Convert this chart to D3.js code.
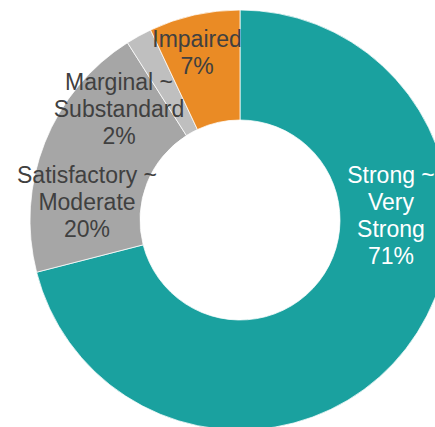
<!DOCTYPE html>
<html>
<head>
<meta charset="utf-8">
<script src="https://cdn.jsdelivr.net/npm/d3@7"></script>
<style>
  html, body { margin: 0; padding: 0; background: #fff; overflow: hidden; }
  svg { display: block; }
  text { font-family: "Liberation Sans", Arial, sans-serif; }
</style>
</head>
<body>
<svg id="chart" width="435" height="427"></svg>
<script>
// Rating distribution (share of total, %)
const categories = ["Strong ~ Very Strong", "Satisfactory ~ Moderate", "Marginal ~ Substandard", "Impaired"];
const shares = [71, 20, 2, 7];
const labelLines = [
  ["Strong ~", "Very", "Strong", "71%"],
  ["Satisfactory ~", "Moderate", "20%"],
  ["Marginal ~", "Substandard", "2%"],
  ["Impaired", "7%"]
];

// Presentation settings
const colors = ["#1AA19F", "#A6A6A6", "#BFBFBF", "#EA8B25"];
const textColors = ["#ffffff", "#404040", "#404040", "#404040"];
// label block anchor: [x offset, first baseline offset] from the donut centre
const labelAnchors = [[151, -37], [-153, -37], [-121, -130], [-43, -173]];

const cx = 240, cy = 220, outerR = 210, innerR = 100;
const fontSize = 23, lineHeight = 27;

const svg = d3.select("#chart");
const g = svg.append("g").attr("transform", `translate(${cx},${cy})`);

const pie = d3.pie().sort(null).value(d => d.value);
const arc = d3.arc().innerRadius(innerR).outerRadius(outerR);

const data = categories.map((c, i) => ({ name: c, value: shares[i], idx: i }));
const arcs = pie(data);

g.selectAll("path.slice")
  .data(arcs)
  .join("path")
  .attr("class", "slice")
  .attr("d", arc)
  .attr("fill", d => colors[d.data.idx])
  .attr("stroke", "#ffffff")
  .attr("stroke-width", 0.75);

const labels = g.selectAll("text.lbl")
  .data(arcs)
  .join("text")
  .attr("class", "lbl")
  .attr("text-anchor", "middle")
  .attr("font-size", fontSize)
  .attr("fill", d => textColors[d.data.idx]);

labels.each(function (d) {
  const [ax, ay] = labelAnchors[d.data.idx];
  d3.select(this).selectAll("tspan")
    .data(labelLines[d.data.idx])
    .join("tspan")
    .attr("x", ax)
    .attr("y", (t, j) => ay + j * lineHeight)
    .text(t => t);
});
</script>
</body>
</html>
